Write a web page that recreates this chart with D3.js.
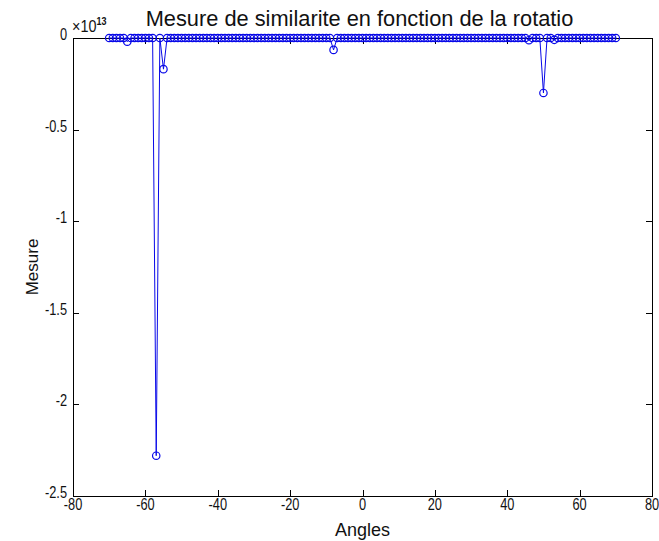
<!DOCTYPE html>
<html>
<head>
<meta charset="utf-8">
<script src="https://cdn.jsdelivr.net/npm/d3@7"></script>
<style>
  html, body { margin: 0; padding: 0; background: #ffffff; }
  svg { display: block; }
  .tick-label { font-family: "Liberation Sans", Arial, Helvetica, sans-serif; font-size: 16px; fill: #111; }
  .lab { font-family: "Liberation Sans", Arial, Helvetica, sans-serif; fill: #111; }
</style>
</head>
<body>
<svg id="chart" width="659" height="541"></svg>
<script>
// Rotation angles (degrees), one sample per degree
const angles = [
  -70,-69,-68,-67,-66,-65,-64,-63,-62,-61,
  -60,-59,-58,-57,-56,-55,-54,-53,-52,-51,
  -50,-49,-48,-47,-46,-45,-44,-43,-42,-41,
  -40,-39,-38,-37,-36,-35,-34,-33,-32,-31,
  -30,-29,-28,-27,-26,-25,-24,-23,-22,-21,
  -20,-19,-18,-17,-16,-15,-14,-13,-12,-11,
  -10,-9,-8,-7,-6,-5,-4,-3,-2,-1,
  0,1,2,3,4,5,6,7,8,9,
  10,11,12,13,14,15,16,17,18,19,
  20,21,22,23,24,25,26,27,28,29,
  30,31,32,33,34,35,36,37,38,39,
  40,41,42,43,44,45,46,47,48,49,
  50,51,52,53,54,55,56,57,58,59,
  60,61,62,63,64,65,66,67,68,69,
  70
];

// Similarity measure for each angle, in units of 1e13
const mesure = [
  0,0,0,0,0,-0.02,0,0,0,0,
  0,0,0,-2.28,0,-0.17,0,0,0,0,
  0,0,0,0,0,0,0,0,0,0,
  0,0,0,0,0,0,0,0,0,0,
  0,0,0,0,0,0,0,0,0,0,
  0,0,0,0,0,0,0,0,0,0,
  0,0,-0.065,0,0,0,0,0,0,0,
  0,0,0,0,0,0,0,0,0,0,
  0,0,0,0,0,0,0,0,0,0,
  0,0,0,0,0,0,0,0,0,0,
  0,0,0,0,0,0,0,0,0,0,
  0,0,0,0,0,0,-0.012,0,0,0,
  -0.30,0,0,-0.01,0,0,0,0,0,0,
  0,0,0,0,0,0,0,0,0,0,
  0
];

const scaleExp = 13;
const xTicks = [-80, -60, -40, -20, 0, 20, 40, 60, 80];
const yTicks = [0, -0.5, -1, -1.5, -2, -2.5];
const xTickLabels = ["-80", "-60", "-40", "-20", "0", "20", "40", "60", "80"];
const yTickLabels = ["0", "-0.5", "-1", "-1.5", "-2", "-2.5"];
const titleText = "Mesure de similarite en fonction de la rotatio";
const xLabelText = "Angles";
const yLabelText = "Mesure";

const svg = d3.select("#chart");
const box = { left: 73, right: 652, top: 38, bottom: 496 };

const x = d3.scaleLinear().domain([-80, 80]).range([box.left, box.right]);
const y = d3.scaleLinear().domain([-2.5, 0]).range([box.bottom, box.top]);

const lineColor = "#0808e8";
const data = angles.map((a, i) => ({ a, v: mesure[i] }));

// Narrow tick-label text: horizontally compressed glyphs anchored at (px, py)
const narrow = 0.8;
function tickText(px, py, anchor, str) {
  return svg.append("text").attr("class", "tick-label")
    .attr("transform", `translate(${px},${py}) scale(${narrow},1)`)
    .attr("text-anchor", anchor)
    .text(str);
}

// Plot frame
svg.append("rect")
  .attr("x", box.left + 0.5).attr("y", box.top + 0.5)
  .attr("width", box.right - box.left).attr("height", box.bottom - box.top)
  .attr("fill", "none").attr("stroke", "#000").attr("stroke-width", 1);

// Inward ticks on all four sides
const tickLen = 6;
const tg = svg.append("g").attr("stroke", "#000").attr("stroke-width", 1);
xTicks.forEach(t => {
  const px = Math.round(x(t)) + 0.5;
  tg.append("line").attr("x1", px).attr("x2", px).attr("y1", box.bottom).attr("y2", box.bottom - tickLen);
  tg.append("line").attr("x1", px).attr("x2", px).attr("y1", box.top).attr("y2", box.top + tickLen);
});
yTicks.forEach(t => {
  const py = Math.round(y(t)) + 0.5;
  tg.append("line").attr("x1", box.left).attr("x2", box.left + tickLen).attr("y1", py).attr("y2", py);
  tg.append("line").attr("x1", box.right).attr("x2", box.right - tickLen).attr("y1", py).attr("y2", py);
});

// Tick labels
xTicks.forEach((t, i) => tickText(x(t), box.bottom + 14, "middle", xTickLabels[i]));
yTicks.forEach((t, i) => tickText(box.left - 6, y(t) + 2, "end", yTickLabels[i]));

// Exponent multiplier
const mult = svg.append("text").attr("class", "tick-label")
  .attr("transform", `translate(${box.left - 1},${box.top - 6}) scale(0.9,1)`)
  .attr("font-size", 16);
mult.append("tspan").text("\u00d710");
mult.append("tspan").attr("dy", -7).attr("font-size", 10).attr("font-weight", "bold").text(String(scaleExp));

// Series line and circle markers
const line = d3.line().x(d => x(d.a)).y(d => y(d.v));
svg.append("path").datum(data)
  .attr("d", line)
  .attr("fill", "none").attr("stroke", lineColor).attr("stroke-width", 1);

svg.append("g").selectAll("circle").data(data).join("circle")
  .attr("cx", d => x(d.a)).attr("cy", d => y(d.v)).attr("r", 3.7)
  .attr("fill", "none").attr("stroke", lineColor).attr("stroke-width", 1.2);

// Titles
svg.append("text").attr("class", "lab")
  .attr("x", (box.left + box.right) / 2 - 3).attr("y", 26)
  .attr("text-anchor", "middle").attr("font-size", 21.8)
  .text(titleText);

svg.append("text").attr("class", "lab")
  .attr("x", (box.left + box.right) / 2).attr("y", 536)
  .attr("text-anchor", "middle").attr("font-size", 18)
  .text(xLabelText);

svg.append("text").attr("class", "lab")
  .attr("transform", `translate(38, ${(box.top + box.bottom) / 2}) rotate(-90)`)
  .attr("text-anchor", "middle").attr("font-size", 17)
  .text(yLabelText);
</script>
</body>
</html>
